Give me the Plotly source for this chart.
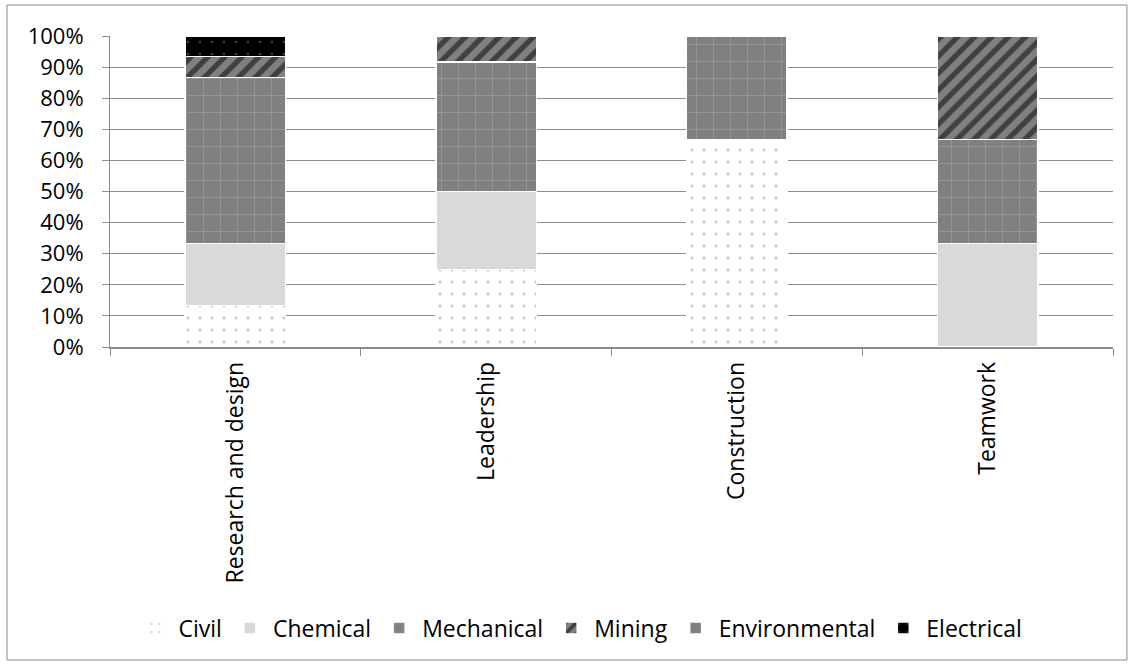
import plotly.graph_objects as go

categories = ["Research and design", "Leadership", "Construction", "Teamwork"]
series_names = ["Civil", "Chemical", "Mechanical", "Mining", "Environmental", "Electrical"]
civil = [13.3, 25.0, 66.7, 0.0]
chemical = [20.0, 25.0, 0.0, 33.3]
mechanical = [53.4, 41.7, 33.3, 33.4]
mining = [6.7, 8.3, 0.0, 33.3]
environmental = [0.0, 0.0, 0.0, 0.0]
electrical = [6.6, 0.0, 0.0, 0.0]
y_ticks = [0, 10, 20, 30, 40, 50, 60, 70, 80, 90, 100]
y_tick_labels = [f"{v}%" for v in y_ticks]

values = [civil, chemical, mechanical, mining, environmental, electrical]
styles = [
    dict(color="white", pattern=dict(shape=".", fgcolor="#8c8c8c", bgcolor="white", size=12, solidity=0.05)),
    dict(color="#d9d9d9"),
    dict(color="#808080", pattern=dict(shape="+", fgcolor="#b0b0b0", bgcolor="#808080", size=17, solidity=0.1)),
    dict(color="#808080", pattern=dict(shape="/", fgcolor="black", bgcolor="#808080", size=12, solidity=0.45)),
    dict(color="#808080"),
    dict(color="black", pattern=dict(shape=".", fgcolor="#808080", bgcolor="black", size=12, solidity=0.04)),
]

fig = go.Figure()
for name, vals, st in zip(series_names, values, styles):
    marker = dict(line=dict(color="white", width=1.5))
    marker.update(st)
    fig.add_trace(go.Bar(name=name, x=categories, y=vals, marker=marker))

fig.update_layout(
    barmode="stack",
    bargap=0.6,
    width=1135, height=666,
    margin=dict(l=110, r=22, t=36, b=319),
    paper_bgcolor="white", plot_bgcolor="white",
    font=dict(family="Open Sans, sans-serif", size=22, color="black"),
    legend=dict(orientation="h", x=0.4686, xanchor="center", y=-0.9035, yanchor="middle",
                font=dict(size=23), itemwidth=36, traceorder="normal"),
    showlegend=True,
    shapes=[dict(type="rect", xref="paper", yref="paper", x0=-0.1027, x1=1.0139,
                 y0=-1.0064, y1=1.0997, line=dict(color="#888888", width=1), layer="below")],
)
fig.update_yaxes(range=[0, 100], tickvals=y_ticks, ticktext=y_tick_labels,
                 showgrid=True, gridcolor="#8c8c8c", gridwidth=1,
                 showline=True, linecolor="#8c8c8c", linewidth=1,
                 ticks="outside", ticklen=7, tickcolor="#8c8c8c", zeroline=False,
                 tickfont=dict(size=22), ticklabelstandoff=14)
fig.update_xaxes(tickangle=-90, showline=True, linecolor="#8c8c8c", linewidth=1.5,
                 ticks="outside", tickson="boundaries", ticklen=7, tickcolor="#8c8c8c",
                 tickfont=dict(size=23), ticklabelstandoff=4)

fig.write_html("out.html", config={"displayModeBar": False},
               post_script="document.body.style.margin='0';")
